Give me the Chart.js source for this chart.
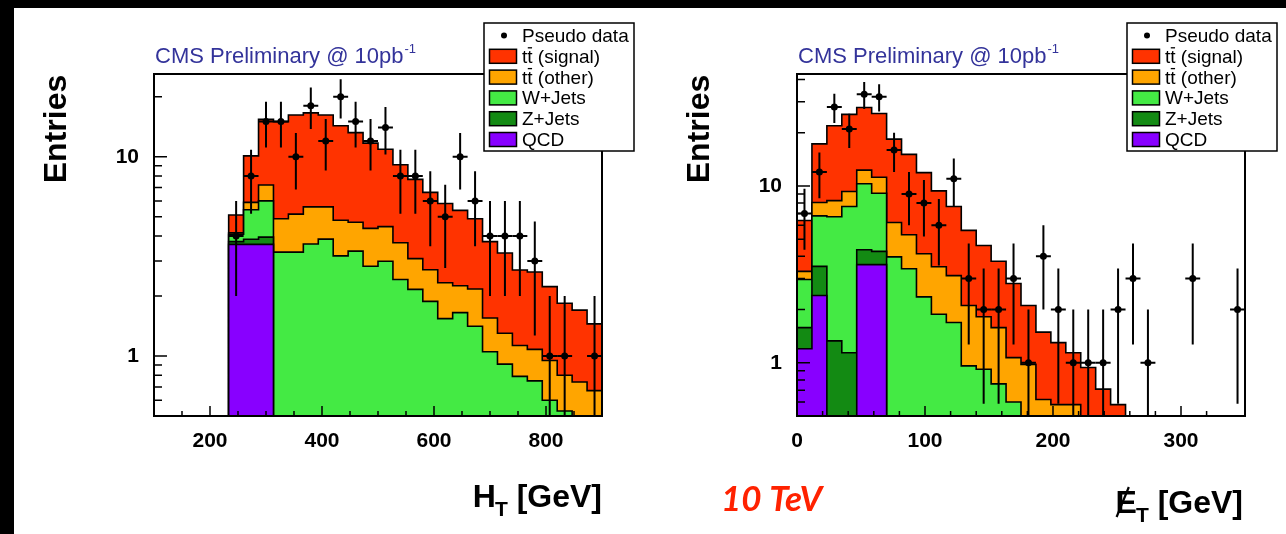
<!DOCTYPE html>
<html>
<head>
<meta charset="utf-8">
<script src="https://cdn.jsdelivr.net/npm/chart.js@4.4.0/dist/chart.umd.min.js"></script>
<style>
  html, body { margin: 0; padding: 0; background: #000; }
  body { width: 1286px; height: 534px; position: relative; overflow: hidden; }
  #sheet { position: absolute; left: 14px; top: 8px; right: 0; bottom: 0; background: #fff; }
  canvas { position: absolute; top: 0; }
  #ht { left: 0; }
  #met { left: 643px; }
</style>
</head>
<body>
<div id="sheet"></div>
<canvas id="ht" width="643" height="534"></canvas>
<canvas id="met" width="643" height="534"></canvas>
<script>
// H_T: 30 bins over 100-900 GeV, the first 5 are empty
const htRange = [100, 900];
const htBinCount = 30;
const htFirstBin = 5;
const htPseudoData = [4, 8, 15, 15, 10, 18, 12, 20, 15, 12, 14, 8, 8, 6, 5, 10, 6, 4, 4, 4, 3, 1, 1, 0, 1];
// stack heights as drawn (each layer sits on top of the ones listed before it)
const htQCD      = [3.63, 3.63, 3.63, 0, 0, 0, 0, 0, 0, 0, 0, 0, 0, 0, 0, 0, 0, 0, 0, 0, 0, 0, 0, 0, 0];
const htZJets    = [3.75, 3.85, 3.95, 0, 0, 0, 0, 0, 0, 0, 0, 0, 0, 0, 0, 0, 0, 0, 0, 0, 0, 0, 0, 0, 0];
const htWJets    = [4.08, 5.42, 6.0, 3.32, 3.32, 3.65, 3.86, 3.18, 3.36, 2.82, 2.99, 2.42, 2.16, 1.88, 1.54, 1.65, 1.41, 1.05, 0.91, 0.79, 0.75, 0.6, 0.53, 0, 0];
const htTTOther  = [4.15, 5.9, 7.21, 4.88, 5.15, 5.6, 5.6, 4.8, 4.69, 4.37, 4.46, 3.7, 3.08, 2.71, 2.33, 2.25, 2.17, 1.55, 1.3, 1.13, 1.08, 0.95, 0.8, 0.74, 0.67];
const htTTSignal = [5.1, 10.1, 15.4, 15.0, 16.2, 16.6, 16.2, 14.3, 13.2, 11.7, 10.9, 9.12, 7.7, 6.62, 5.82, 5.38, 4.88, 3.75, 3.29, 2.7, 2.64, 2.23, 1.84, 1.7, 1.45];

// missing E_T: 30 bins over 0-350 GeV
const metRange = [0, 350];
const metBinCount = 30;
const metFirstBin = 0;
const metPseudoData = [7, 12, 28, 21, 33, 32, 16, 9, 8, 6, 11, 3, 2, 2, 3, 1, 4, 2, 1, 1, 1, 2, 3, 1, 0, 0, 3, 0, 0, 2];
const metQCD      = [1.2, 2.4, 0, 0, 3.59, 3.59, 0, 0, 0, 0, 0, 0, 0, 0, 0, 0, 0, 0, 0, 0, 0, 0, 0, 0, 0, 0, 0, 0, 0, 0];
const metZJets    = [1.58, 3.51, 1.33, 1.14, 4.36, 4.27, 0, 0, 0, 0, 0, 0, 0, 0, 0, 0, 0, 0, 0, 0, 0, 0, 0, 0, 0, 0, 0, 0, 0, 0];
const metWJets    = [2.96, 6.78, 6.7, 7.65, 10.3, 9.1, 3.97, 3.4, 2.36, 1.88, 1.69, 0.96, 0.92, 0.76, 0.6, 0, 0, 0, 0, 0, 0, 0, 0, 0, 0, 0, 0, 0, 0, 0];
const metTTOther  = [3.29, 8.06, 8.27, 9.3, 12.3, 11.2, 6.22, 5.3, 4.14, 3.49, 3.11, 2.11, 1.82, 1.58, 1.07, 0.98, 0.62, 0.58, 0.58, 0, 0, 0, 0, 0, 0, 0, 0, 0, 0, 0];
const metTTSignal = [6.38, 17.3, 21.9, 25.4, 27.8, 25.7, 18.4, 15.1, 11.9, 9.38, 7.65, 5.61, 4.61, 3.75, 2.81, 2.11, 1.49, 1.3, 1.14, 0.94, 0.71, 0.58, 0, 0, 0, 0, 0, 0, 0, 0];

const labels = ['Pseudo data', 'QCD', 'Z+Jets', 'W+Jets', 'tt\u0304 (other)', 'tt\u0304 (signal)'];
const colors = ['#000000', '#8800ff', '#138a13', '#44ea44', '#ffa500', '#ff3300'];

const FONT = '"Liberation Sans", Arial, Helvetica, sans-serif';
const FLOOR = 0.05; // empty bins are pushed below the axis minimum

// stepped outline of one histogram layer, points on the bin low edges
function stepPoints(levels, lo, width, first) {
  const edge = k => lo + (first + k) * width;
  const v = y => (y > 0 ? y : FLOOR);
  const pts = [{x: edge(0), y: FLOOR}];
  levels.forEach((y, k) => pts.push({x: edge(k), y: v(y)}));
  const n = levels.length;
  pts.push({x: edge(n), y: v(levels[n - 1])});
  pts.push({x: edge(n), y: FLOOR});
  return pts;
}

const decor = {
  id: 'decor',
  afterDatasetsDraw(chart, args, o) {
    const {ctx, chartArea: a, scales: {x, y}} = chart;
    ctx.save();
    ctx.beginPath();
    ctx.rect(a.left, a.top, a.right - a.left, a.bottom - a.top);
    ctx.clip();
    ctx.strokeStyle = '#000';
    ctx.lineWidth = 2;
    chart.data.datasets[0].data.forEach(p => {
      if (p.y == null) return;
      const err = Math.sqrt(p.y);
      const px = x.getPixelForValue(p.x), py = y.getPixelForValue(p.y);
      const top = y.getPixelForValue(p.y + err);
      const bot = p.y - err > 0 ? y.getPixelForValue(p.y - err) : a.bottom;
      ctx.beginPath();
      ctx.moveTo(px, top); ctx.lineTo(px, bot);
      ctx.moveTo(x.getPixelForValue(p.x - o.binWidth / 2), py);
      ctx.lineTo(x.getPixelForValue(p.x + o.binWidth / 2), py);
      ctx.stroke();
    });
    ctx.restore();
  },
  afterDraw(chart, args, o) {
    const {ctx, chartArea: a, scales: {x, y}} = chart;
    ctx.save();
    ctx.strokeStyle = '#000';
    ctx.fillStyle = '#000';

    // ticks point inwards
    ctx.lineWidth = 1.5;
    ctx.beginPath();
    x.ticks.forEach(t => {
      const v = t.value;
      if (v <= x.min || v >= x.max || v % o.xMinor) return;
      const len = v % o.xMajor === 0 ? 10 : 5;
      const px = x.getPixelForValue(v);
      ctx.moveTo(px, a.bottom); ctx.lineTo(px, a.bottom - len);
    });
    y.ticks.forEach(t => {
      const v = t.value;
      if (v <= y.min * 1.0001 || v >= y.max * 0.9999) return;
      const e = Math.floor(Math.log10(v) + 1e-9);
      const m = v / Math.pow(10, e);
      if (Math.abs(m - Math.round(m)) > 1e-6) return;
      const len = Math.round(m) === 1 ? 13 : 8;
      const py = y.getPixelForValue(v);
      ctx.moveTo(a.left, py); ctx.lineTo(a.left + len, py);
    });
    ctx.stroke();

    ctx.lineWidth = 2;
    ctx.strokeRect(a.left, a.top, a.right - a.left, a.bottom - a.top);

    // "Entries"
    ctx.save();
    ctx.translate(66, 129);
    ctx.rotate(-Math.PI / 2);
    ctx.font = 'bold 32px ' + FONT;
    ctx.textAlign = 'center';
    ctx.textBaseline = 'alphabetic';
    ctx.fillText('Entries', 0, 0);
    ctx.restore();

    // x title with subscript T
    ctx.textBaseline = 'alphabetic';
    ctx.textAlign = 'left';
    const big = 'bold 32px ' + FONT, small = 'bold 21px ' + FONT;
    ctx.font = big;
    const w1 = ctx.measureText(o.xMain).width, w3 = ctx.measureText(' [GeV]').width;
    ctx.font = small;
    const w2 = ctx.measureText('T').width;
    const tx = o.titleRight - (w1 + w2 + w3), tb = o.titleBaseline;
    ctx.font = big;
    ctx.fillText(o.xMain, tx, tb);
    if (o.slash) {
      ctx.lineWidth = 2.2;
      ctx.beginPath();
      ctx.moveTo(tx + 1, tb + 4);
      ctx.lineTo(tx + w1 * 0.62, tb - 26);
      ctx.stroke();
    }
    ctx.font = small;
    ctx.fillText('T', tx + w1 - 1, tb + 9);
    ctx.font = big;
    ctx.fillText(' [GeV]', tx + w1 + w2 - 1, tb);

    // CMS label
    ctx.fillStyle = '#33339a';
    ctx.font = '22px ' + FONT;
    const cms = 'CMS Preliminary @ 10pb';
    ctx.fillText(cms, 155, 63);
    const cw = ctx.measureText(cms).width;
    ctx.font = '13px ' + FONT;
    ctx.fillText('-1', 155 + cw + 1, 53);

    // legend box
    const lx = 484, ly = 23, lw = 150, lh = 128;
    ctx.fillStyle = '#fff';
    ctx.fillRect(lx, ly, lw, lh);
    ctx.lineWidth = 1.5;
    ctx.strokeRect(lx, ly, lw, lh);
    const order = [0, 5, 4, 3, 2, 1];
    ctx.font = '19px ' + FONT;
    order.forEach((di, row) => {
      const ds = chart.data.datasets[di];
      const c = 35.5 + 20.8 * row;
      if (di === 0) {
        ctx.fillStyle = '#000';
        ctx.beginPath();
        ctx.arc(504, c, 3, 0, Math.PI * 2);
        ctx.fill();
      } else {
        ctx.fillStyle = ds.backgroundColor;
        ctx.fillRect(489.5, c - 7, 27, 14);
        ctx.lineWidth = 1.5;
        ctx.strokeRect(489.5, c - 7, 27, 14);
      }
      ctx.fillStyle = '#000';
      const label = ds.label;
      const plain = label.replace('\u0304', '');
      const tx0 = 522, base = c + 6.5;
      ctx.fillText(plain, tx0, base);
      const mi = label.indexOf('\u0304');
      if (mi > 0) {
        const a0 = ctx.measureText(plain.slice(0, mi - 1)).width;
        const a1 = ctx.measureText(plain.slice(0, mi)).width;
        ctx.lineWidth = 1.3;
        ctx.beginPath();
        ctx.moveTo(tx0 + a0 + 0.5, base - 15);
        ctx.lineTo(tx0 + a1 - 0.5, base - 15);
        ctx.stroke();
      }
    });

    if (o.note) {
      ctx.fillStyle = '#ff2200';
      ctx.font = 'italic bold 35px Lato, ' + FONT;
      ctx.fillText(o.note, o.noteX, o.noteBaseline);
    }
    ctx.restore();
  }
};

function makePanel(id, range, binCount, firstBin, pseudo, layers, yMax, xMinor, xMajor, deco) {
  const width = (range[1] - range[0]) / binCount;
  const dataPts = pseudo.map((n, k) => ({
    x: range[0] + (firstBin + k + 0.5) * width,
    y: n > 0 ? n : null
  }));
  const datasets = [{
    label: labels[0],
    data: dataPts,
    showLine: false,
    pointRadius: 3.5,
    pointBorderWidth: 0,
    pointBackgroundColor: colors[0]
  }];
  layers.forEach((lv, i) => {
    datasets.push({
      label: labels[i + 1],
      data: stepPoints(lv, range[0], width, firstBin),
      stepped: true,
      fill: 'start',
      backgroundColor: colors[i + 1],
      borderColor: '#000',
      borderWidth: 1.6,
      pointRadius: 0
    });
  });
  const tickFont = {family: FONT, size: 21, weight: 'bold'};
  return new Chart(document.getElementById(id), {
    type: 'line',
    data: {datasets},
    options: {
      responsive: false,
      animation: false,
      layout: {padding: {left: 0, right: 41, top: 74, bottom: 0}},
      plugins: {
        legend: {display: false},
        tooltip: {enabled: false},
        decor: Object.assign({binWidth: width, xMinor, xMajor}, deco)
      },
      scales: {
        x: {
          type: 'linear',
          min: range[0],
          max: range[1],
          grid: {display: false, drawTicks: false},
          border: {display: false},
          ticks: {
            stepSize: xMinor,
            autoSkip: false,
            maxRotation: 0,
            padding: 13,
            color: '#000',
            font: tickFont,
            callback: v => (v % xMajor === 0 ? String(v) : '')
          },
          afterFit: s => { s.height = 118; }
        },
        y: {
          type: 'logarithmic',
          min: 0.5,
          max: yMax,
          grid: {display: false, drawTicks: false},
          border: {display: false},
          ticks: {
            autoSkip: false,
            padding: 15,
            color: '#000',
            font: tickFont,
            callback: v => (Math.abs(v - 1) < 1e-9 ? '1' : Math.abs(v - 10) < 1e-9 ? '10' : '')
          },
          afterFit: s => { s.width = 154; }
        }
      }
    },
    plugins: [decor]
  });
}

makePanel('ht', htRange, htBinCount, htFirstBin, htPseudoData,
  [htQCD, htZJets, htWJets, htTTOther, htTTSignal], 26, 50, 200,
  {xMain: 'H', titleRight: 603, titleBaseline: 507});

makePanel('met', metRange, metBinCount, metFirstBin, metPseudoData,
  [metQCD, metZJets, metWJets, metTTOther, metTTSignal], 43, 20, 100,
  {xMain: 'E', slash: true, titleRight: 601, titleBaseline: 513,
   note: '10 TeV', noteX: 78, noteBaseline: 511});
</script>
</body>
</html>
